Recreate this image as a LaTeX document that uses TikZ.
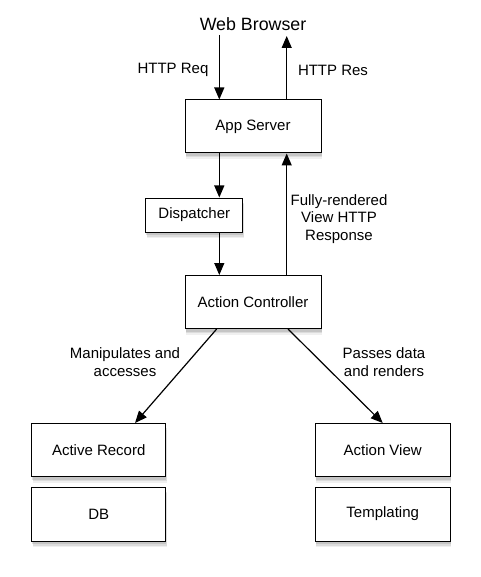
\documentclass[tikz,border=0pt]{standalone}
\usepackage{fontspec}
\setmainfont{Liberation Sans}
\usetikzlibrary{arrows.meta,shadows}
\begin{document}
\begin{tikzpicture}[x=1pt,y=-1pt,
  box/.style={draw,fill=white,line width=1pt,inner sep=0pt,minimum width=136pt,minimum height=53pt,
    font=\fontsize{15}{18}\selectfont,
    drop shadow={shadow xshift=1pt,shadow yshift=-6pt,opacity=.12},
    drop shadow={shadow xshift=1pt,shadow yshift=-4.5pt,opacity=.18},
    drop shadow={shadow xshift=0.5pt,shadow yshift=-3pt,opacity=.25}},
  lbl/.style={font=\fontsize{15}{17.5}\selectfont,align=center},
  arr/.style={-{Triangle[length=12pt,width=10pt]},line width=1.2pt}]
\useasboundingbox (0,0) rectangle (480,577);

\node[font=\fontsize{17.8}{20}\selectfont] (web) at (253,24) {Web Browser};
\coordinate (reqtop) at (219.3,35);
\coordinate (restop) at (286.7,36);

\node[box] (app) at (253,126.5) {App Server};
\node[box,minimum width=97pt,minimum height=34pt] (disp) at (194.3,215) {Dispatcher};
\node[box] (ctrl) at (253,302) {Action Controller};
\node[box,minimum width=134pt] (rec) at (98.7,450) {Active Record};
\node[box,minimum width=134pt,minimum height=54pt] (db) at (98.7,514) {DB};
\node[box,minimum width=135pt] (view) at (382.7,450) {Action View};
\node[box,minimum width=135pt,minimum height=54pt] (tmpl) at (382.7,514) {Templating};

\draw[arr] (reqtop) -- (reqtop |- app.north);
\draw[arr] (restop |- app.north) -- (restop);
\draw[arr] ([xshift=-33.7pt]app.south) -- ([xshift=-33.7pt]app.south |- disp.north);
\draw[arr] ([xshift=25pt]disp.south) -- ([xshift=25pt]disp.south |- ctrl.north);
\draw[arr] ([xshift=33.7pt]ctrl.north) -- ([xshift=33.7pt]ctrl.north |- app.south);
\draw[arr] ([xshift=-36.3pt]ctrl.south) -- ([xshift=36.3pt]rec.north);
\draw[arr] ([xshift=35pt]ctrl.south) -- (view.north);

\node[lbl] (req) at (173,70) {HTTP Req};
\node[lbl] (res) at (333,70) {HTTP Res};
\node[lbl] (full) at (339,219) {Fully-rendered\\View HTTP\\Response};
\node[lbl] (manip) at (125,362) {Manipulates and\\accesses};
\node[lbl] (pass) at (384,362) {Passes data\\and renders};
\end{tikzpicture}
\end{document}
